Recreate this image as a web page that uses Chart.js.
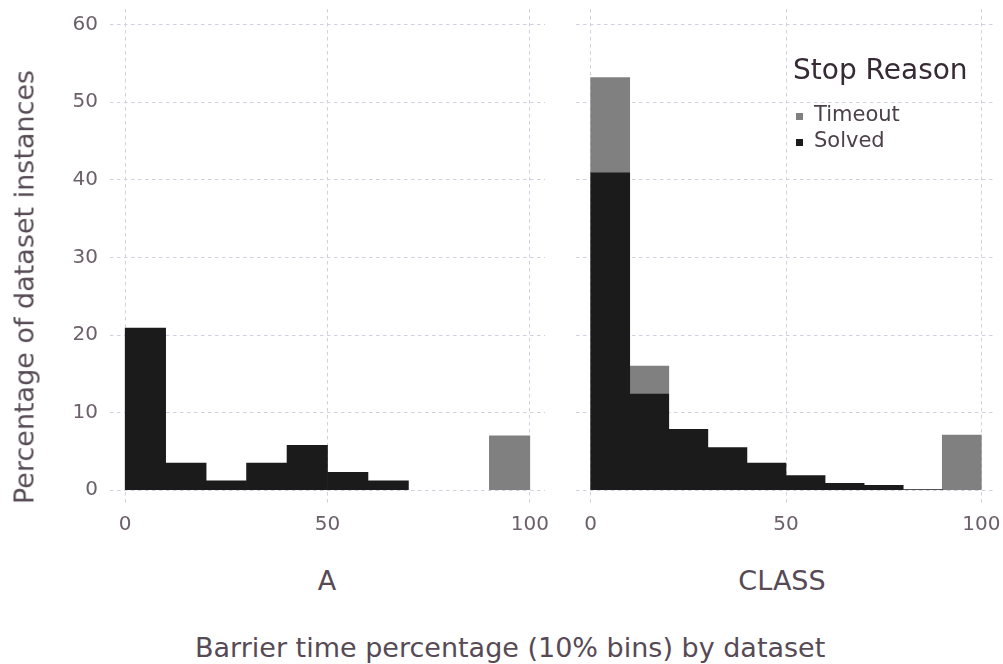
<!DOCTYPE html>
<html>
<head>
<meta charset="utf-8">
<script src="https://cdn.jsdelivr.net/npm/chart.js@4/dist/chart.umd.min.js"></script>
<style>
  body { margin: 0; background: #fff; }
  #wrap { position: relative; width: 1003px; height: 664px; overflow: hidden; font-family: "DejaVu Sans", sans-serif; }
  canvas { position: absolute; }
  .lbl { position: absolute; white-space: nowrap; color: #564a55; font-size: 27px; line-height: 27px; }
  .key { position: absolute; white-space: nowrap; color: #4c404b; font-size: 21px; line-height: 21px; }
  .sw { position: absolute; left: -18px; top: 9px; width: 7px; height: 7px; }
</style>
</head>
<body>
<div id="wrap">
  <canvas id="chartA" style="left:0;top:0;width:560px;height:540px" width="560" height="540"></canvas>
  <canvas id="chartC" style="left:560px;top:0;width:443px;height:540px" width="443" height="540"></canvas>

  <div class="lbl" style="left:23.7px;top:287px;transform:translate(-50%,-50%) rotate(-90deg)">Percentage of dataset instances</div>
  <div class="lbl" style="left:327px;top:567px;transform:translateX(-50%)">A</div>
  <div class="lbl" style="left:782px;top:567px;transform:translateX(-50%)">CLASS</div>
  <div class="lbl" style="left:195px;top:634px;">Barrier time percentage (10% bins) by dataset</div>

  <div class="lbl" style="left:793px;top:56px;color:#362a35;font-size:28px;line-height:28px;">Stop Reason</div>
  <div class="key" style="left:814px;top:104px;"><span class="sw" style="background:#808080"></span>Timeout</div>
  <div class="key" style="left:814px;top:130px;"><span class="sw" style="background:#1b1b1b"></span>Solved</div>
</div>
<script>
// 10% bins, lower edges
const binStart = [0, 10, 20, 30, 40, 50, 60, 70, 80, 90];
const xTicks = [0, 50, 100];
const yTicks = [0, 10, 20, 30, 40, 50, 60];

// dataset A
const solvedA  = [20.9, 3.5, 1.2, 3.5, 5.8, 2.3, 1.2, 0, 0, 0];
const timeoutA = [0, 0, 0, 0, 0, 0, 0, 0, 0, 7.0];

// dataset CLASS
const solvedC  = [40.9, 12.4, 7.85, 5.5, 3.5, 1.9, 0.9, 0.65, 0.1, 0];
const timeoutC = [12.25, 3.6, 0, 0, 0, 0, 0, 0, 0, 7.1];

const gridCol = '#d0d0e0';
const tickFont = { family: 'DejaVu Sans', size: 20 };

// empty bins are left out so no hairline is drawn
function points(vals) {
  return vals.map((v, i) => ({ x: binStart[i] + 5, y: v })).filter(p => p.y > 0);
}

function makeChart(id, solved, timeout, showY, yWidth, padRight) {
  const ctx = document.getElementById(id).getContext('2d');
  return new Chart(ctx, {
    type: 'bar',
    data: {
      datasets: [
        { label: 'Solved', data: points(solved), backgroundColor: '#1b1b1b', borderWidth: 0,
          barPercentage: 1, categoryPercentage: 1 },
        { label: 'Timeout', data: points(timeout), backgroundColor: '#808080', borderWidth: 0,
          barPercentage: 1, categoryPercentage: 1 }
      ]
    },
    options: {
      responsive: false,
      animation: false,
      layout: { padding: { top: 9, right: padRight, left: 0, bottom: 0 } },
      plugins: { legend: { display: false }, tooltip: { enabled: false } },
      scales: {
        x: {
          type: 'linear',
          stacked: true,
          offset: false,
          min: -3.75,
          max: 103.75,
          afterBuildTicks: axis => { axis.ticks = xTicks.map(v => ({ value: v })); },
          afterFit: axis => { axis.height = 35; axis.paddingLeft = 0; axis.paddingRight = 0; },
          grid: { color: gridCol, lineWidth: 1, drawTicks: false, offset: false },
          border: { display: false, dash: [3.5, 3.5] },
          ticks: { color: '#6c606b', font: tickFont, padding: 8, maxRotation: 0 }
        },
        y: {
          type: 'linear',
          stacked: true,
          min: -1.9,
          max: 62,
          afterBuildTicks: axis => { axis.ticks = yTicks.map(v => ({ value: v })); },
          afterFit: axis => { axis.width = yWidth; axis.paddingTop = 0; axis.paddingBottom = 0; },
          grid: { color: gridCol, lineWidth: 1, drawTicks: false },
          border: { display: false, dash: [3.5, 3.5] },
          ticks: { display: showY, color: '#6c606b', font: tickFont, padding: 12 }
        }
      }
    }
  });
}

makeChart('chartA', solvedA, timeoutA, true, 110, 15);
makeChart('chartC', solvedC, timeoutC, false, 16, 7);
</script>
</body>
</html>
